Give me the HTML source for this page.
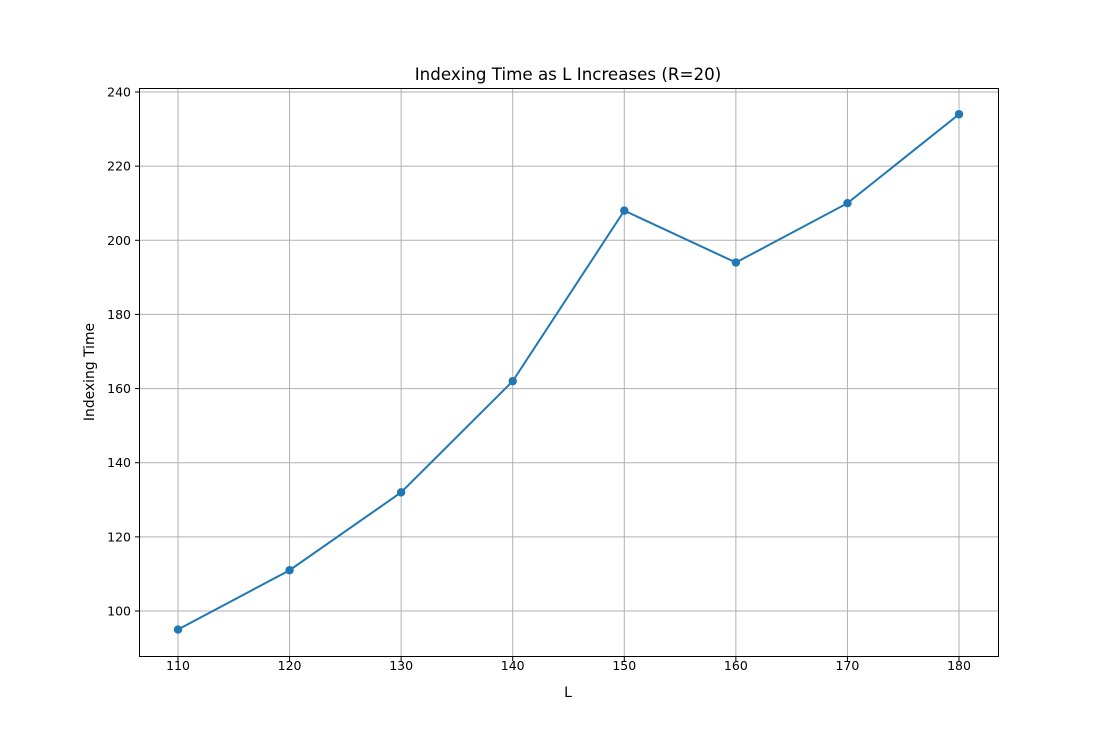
<!DOCTYPE html>
<html><head><meta charset="utf-8"><style>
html,body{margin:0;padding:0;background:#fff;}
svg{display:block;font-family:"DejaVu Sans","Liberation Sans",sans-serif;}
</style></head><body>
<svg id="chart" width="1108" height="737">
<rect x="0" y="0" width="1108" height="737" fill="#fff"/>
<g id="grid"></g>
<g id="ticks"></g>
<g id="series"></g>
<rect x="139.5" y="88.5" width="859" height="568" fill="none" stroke="#000" stroke-width="1"/>
<text x="568" y="80" text-anchor="middle" font-size="16.7">Indexing Time as L Increases (R=20)</text>
<text x="568" y="697" text-anchor="middle" font-size="13.9">L</text>
<text transform="translate(94,372) rotate(-90)" text-anchor="middle" font-size="13.9">Indexing Time</text>
</svg>
<script>
const categories = [110,120,130,140,150,160,170,180];
const values = [95,111,132,162,208,194,210,234];
const xTicks = [110,120,130,140,150,160,170,180];
const yTicks = [100,120,140,160,180,200,220,240];
const NS='http://www.w3.org/2000/svg';
function xs(v){return 178+(v-110)*(959-178)/70;}
function ys(v){return 611-(v-100)*(611-92)/140;}
function mk(tag,attrs,parent){const e=document.createElementNS(NS,tag);for(const k in attrs)e.setAttribute(k,attrs[k]);parent.appendChild(e);return e;}
const grid=document.getElementById('grid'),ticks=document.getElementById('ticks'),series=document.getElementById('series');
xTicks.forEach(t=>{const x=xs(t);
 const g=mk('line',{x1:x,x2:x,y1:88.5,y2:656.5,stroke:'#b0b0b0','stroke-width':1},grid);
 
 
 const tk=mk('line',{x1:x,x2:x,y1:656.5,y2:661,stroke:'#000'},ticks);
 
 
 const lb=mk('text',{x:x,y:670,'text-anchor':'middle','font-size':12.5},ticks);lb.textContent=t;
 
 
});
yTicks.forEach(t=>{const y=ys(t);
 const g=mk('line',{x1:139.5,x2:998.5,y1:y,y2:y,stroke:'#b0b0b0','stroke-width':1},grid);
 
 
 const tk=mk('line',{x1:135,x2:139.5,y1:y,y2:y,stroke:'#000'},ticks);
 
 
 const lb=mk('text',{x:131,y:y+4.5,'text-anchor':'end','font-size':12.5},ticks);lb.textContent=t;
 
 
});
const pts=categories.map((c,i)=>xs(c)+','+ys(values[i])).join(' ');
const line=mk('polyline',{points:pts,fill:'none',stroke:'#1f77b4','stroke-width':2},series);


categories.forEach((c,i)=>{
 const p=mk('circle',{cx:xs(c),cy:ys(values[i]),r:4.2,fill:'#1f77b4'},series);
 
 
});
</script>
</body></html>
